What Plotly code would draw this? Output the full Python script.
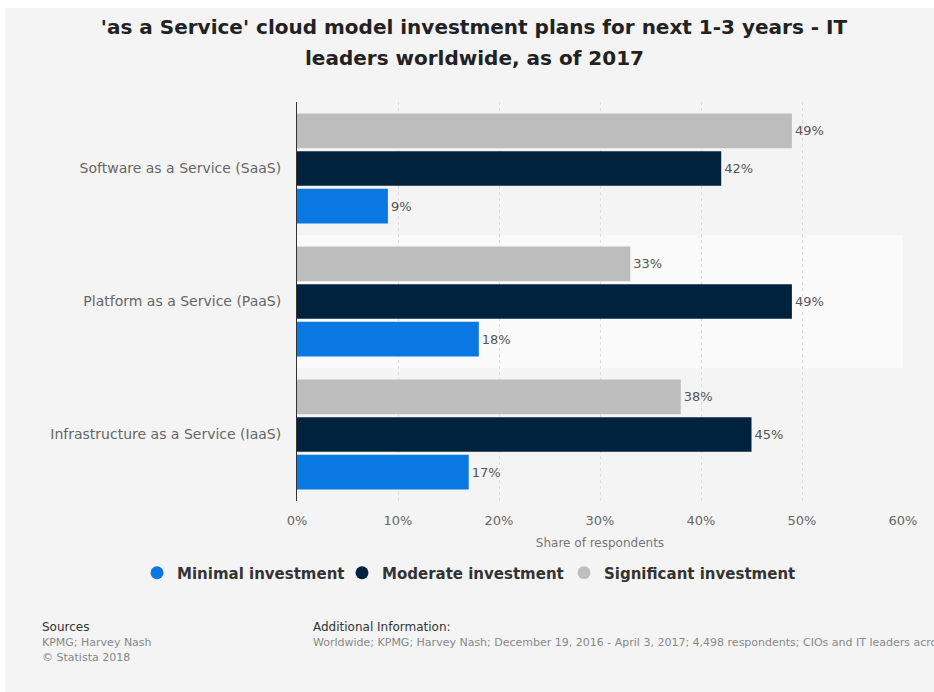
import plotly.graph_objects as go

categories = ["Infrastructure as a Service (IaaS)", "Platform as a Service (PaaS)", "Software as a Service (SaaS)"]
minimal = [17, 18, 9]
moderate = [45, 49, 42]
significant = [38, 33, 49]
series_names = ["Minimal investment", "Moderate investment", "Significant investment"]
colors = ["#0a78e2", "#01223d", "#bdbdbd"]
x_ticks = [0, 10, 20, 30, 40, 50, 60]

W, H = 934, 692
L, R, T, B = 297, 31, 102, 191
PW, PH = W - L - R, H - T - B

def px(x):
    return (x - L) / PW

def py(y):
    return (H - B - y) / PH

FONT = "DejaVu Sans"
legend_ids = ["legend", "legend2", "legend3"]
legend_text_x = [179, 384, 606]

fig = go.Figure()
for name, vals, col, lid in zip(series_names, [minimal, moderate, significant], colors, legend_ids):
    fig.add_trace(go.Bar(
        y=categories, x=vals, name=name, orientation="h",
        marker=dict(color=col, line=dict(width=0)),
        text=[f"{v}%" for v in vals], textposition="outside",
        textfont=dict(size=13, color="#555555", family=FONT),
        cliponaxis=False, showlegend=False,
    ))
    fig.add_trace(go.Scatter(
        x=[None], y=[None], mode="markers", name=name, legend=lid,
        marker=dict(color=col, size=13, symbol="circle"),
    ))

shapes = [
    dict(type="rect", xref="paper", yref="paper", x0=px(5), x1=px(W + 5), y0=py(8), y1=py(H + 5),
         fillcolor="#f4f4f4", line=dict(width=0), layer="below"),
    dict(type="rect", xref="paper", yref="y", x0=0, x1=1, y0=0.5, y1=1.5,
         fillcolor="#fafafa", line=dict(width=0), layer="below"),
]

def note(text, x, y, size, color, bold=False, anchor="left"):
    return dict(text=text, x=px(x), y=py(y), xref="paper", yref="paper",
                xanchor=anchor, yanchor="middle", showarrow=False,
                font=dict(size=size, color=color, family=FONT, weight="bold" if bold else "normal"))

annotations = [
    note("leaders worldwide, as of 2017", 474, 58, 20, "#222222", bold=True, anchor="center"),
    note("Sources", 40, 627, 12, "#333333"),
    note("KPMG; Harvey Nash", 40, 642, 11, "#888888"),
    note("© Statista 2018", 40, 657, 11, "#888888"),
    note("Additional Information:", 311, 627, 12, "#333333"),
    note("Worldwide; KPMG; Harvey Nash; December 19, 2016 - April 3, 2017; 4,498 respondents; CIOs and IT leaders across 86 countries",
         311, 642, 11, "#888888"),
]

legend_common = dict(orientation="h", xref="container", yref="container", xanchor="left",
                     y=1 - 573 / H, yanchor="middle",
                     font=dict(size=15, color="#333333", family=FONT, weight="bold"),
                     bgcolor="rgba(0,0,0,0)", itemwidth=30)
legends = {lid: dict(legend_common, x=(tx - 42) / W) for lid, tx in zip(legend_ids, legend_text_x)}

fig.update_layout(
    width=W, height=H,
    margin=dict(l=L, r=R, t=T, b=B, pad=0, autoexpand=False),
    paper_bgcolor="#ffffff", plot_bgcolor="rgba(0,0,0,0)",
    title=dict(text="'as a Service' cloud model investment plans for next 1-3 years - IT",
               x=474 / W, xanchor="center", y=1 - 27 / H, yanchor="middle",
               font=dict(size=20, color="#222222", family=FONT, weight="bold")),
    barmode="group", bargap=0.15, bargroupgap=0.08,
    xaxis=dict(range=[0, 60], tickvals=x_ticks, ticktext=[f"{v}%" for v in x_ticks],
               showgrid=True, gridcolor="#dddddd", griddash="dot", gridwidth=1,
               zeroline=False, showline=False, ticks="",
               tickfont=dict(size=13, color="#666666", family=FONT), ticklabelstandoff=10,
               title=dict(text="Share of respondents", font=dict(size=12, color="#777777", family=FONT), standoff=11),
               fixedrange=True),
    yaxis=dict(showline=True, linecolor="#333333", linewidth=1, showgrid=False, zeroline=False,
               ticks="", tickfont=dict(size=14, color="#666666", family=FONT), ticklabelstandoff=12,
               categoryorder="array", categoryarray=categories, range=[-0.5, 2.5]),
    shapes=shapes, annotations=annotations,
    **legends,
)

fig.write_html("out.html")
